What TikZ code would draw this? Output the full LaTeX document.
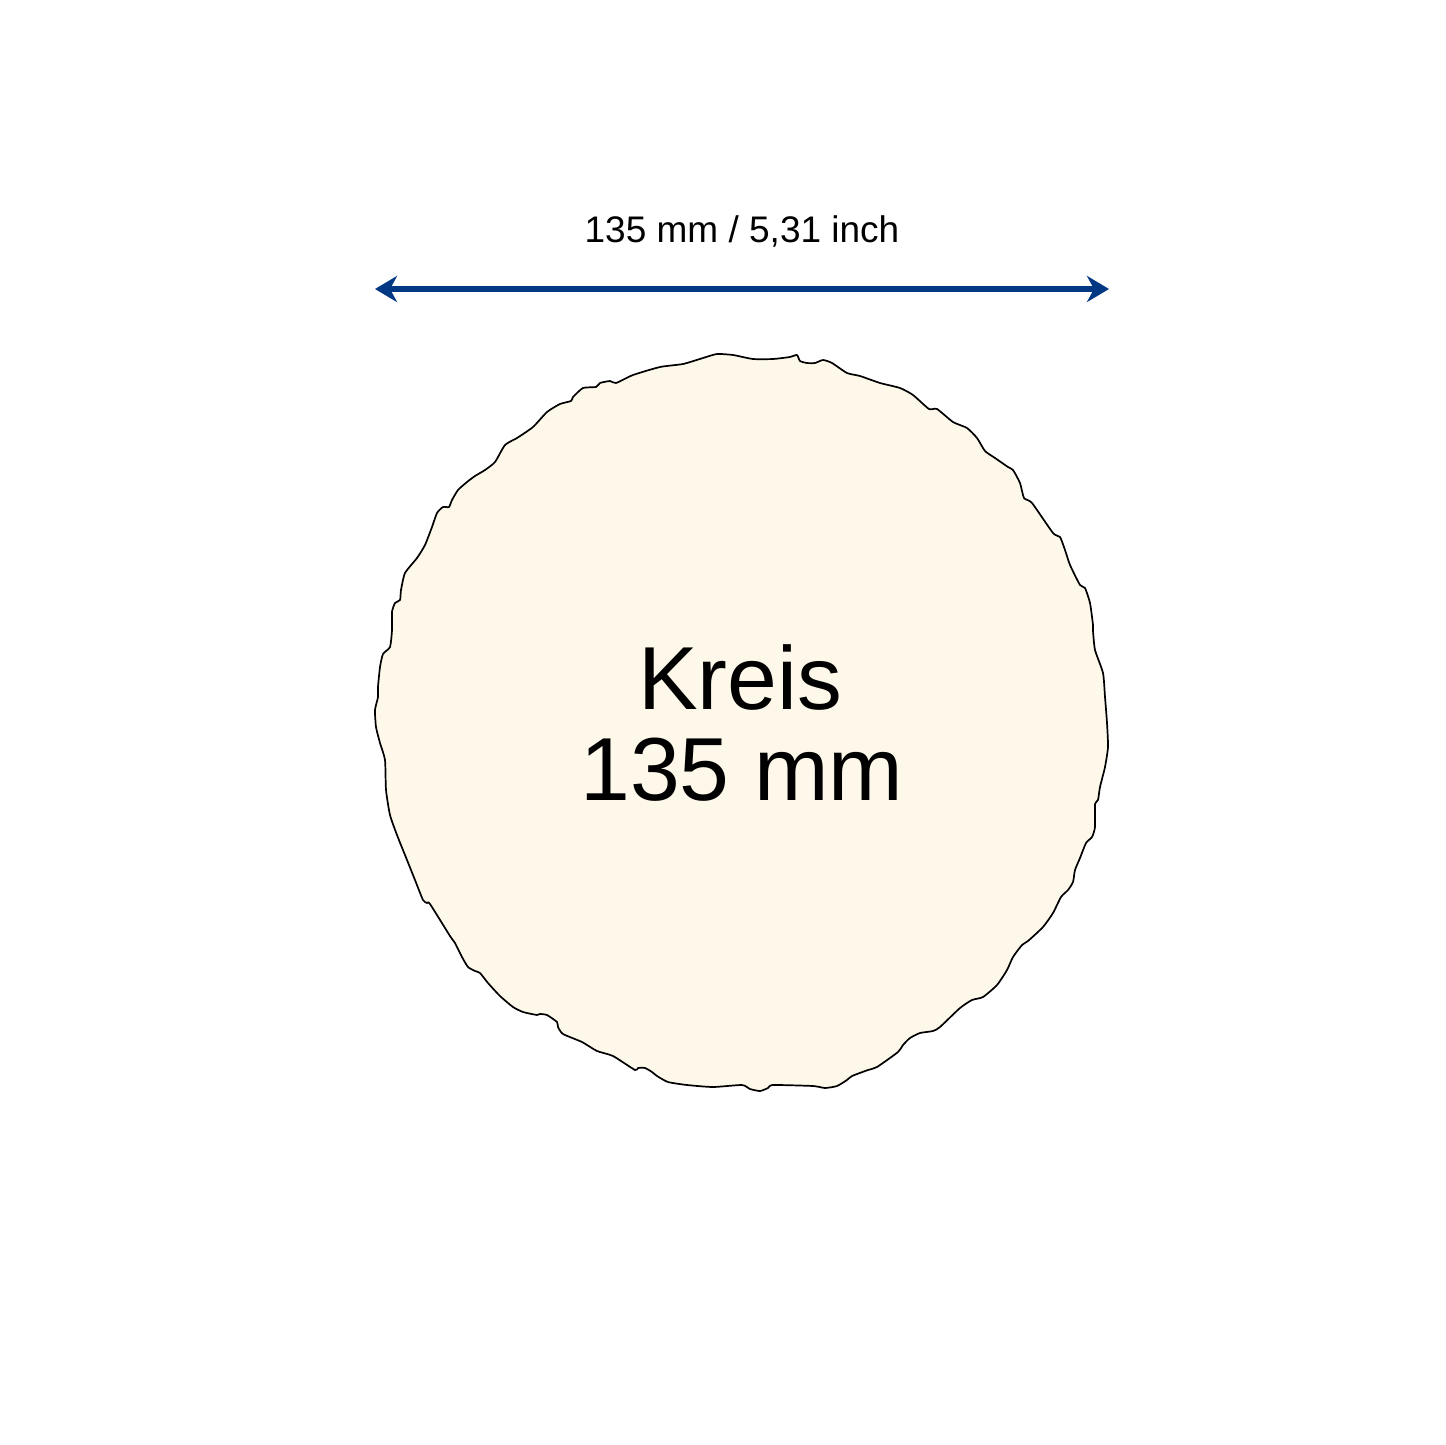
\documentclass[tikz,border=0pt]{standalone}
\usepackage{fontspec}
\setmainfont{Liberation Sans}
\usetikzlibrary{arrows.meta}
\definecolor{dimblue}{RGB}{0,56,131}
\definecolor{cream}{RGB}{253,248,234}
\begin{document}
\begin{tikzpicture}[x=1pt,y=-1pt,
  dimline/.style={draw=dimblue,line width=6pt,{Stealth[length=22pt,width=26pt,inset=7pt]}-{Stealth[length=22pt,width=26pt,inset=7pt]}},
  bigtext/.style={font=\fontsize{89.5}{92}\selectfont,anchor=base,inner sep=0pt},
  smalltext/.style={font=\fontsize{37}{40}\selectfont,anchor=base,inner sep=0pt},
  outline/.style={draw=black,fill=cream,line width=1.7pt,line join=round}]
\useasboundingbox (0,0) rectangle (1445,1445);
\fill[white] (0,0) rectangle (1445,1445);
\draw[outline] plot[smooth cycle,tension=0.35] coordinates {
(717,354) (733,355) (753,359) (773,359) (790,357) (797,355) (800,361) (807,363) (815,363) (823,360) (832,363) (847,373) (860,376) (880,383) (900,388) (913,395) (929,409) (937,409) (953,422) (967,428) (977,438) (985,451) (995,458) (1008,467) (1013,470) (1020,483) (1024,498) (1032,503) (1053,533) (1060,537) (1065,550) (1070,565) (1080,585) (1085,588) (1090,603) (1093,625) (1093,631) (1095,650) (1103,673) (1105,697) (1107,723) (1108,747) (1105,767) (1100,787) (1098,800) (1095,804) (1095,827) (1092,837) (1086,843) (1080,858) (1075,870) (1073,882) (1068,890) (1061,897) (1053,913) (1043,927) (1028,941) (1022,945) (1013,957) (1007,970) (997,985) (983,997) (972,1000) (960,1008) (940,1027) (933,1031) (920,1033) (910,1038) (903,1045) (898,1052) (877,1067) (868,1070) (852,1076) (847,1080) (837,1086) (825,1088) (813,1086) (773,1085) (768,1088) (760,1091) (750,1089) (742,1085) (713,1087) (687,1085) (668,1082) (657,1076) (652,1072) (645,1068) (638,1068) (635,1070) (613,1056) (597,1051) (582,1042) (563,1034) (558,1027) (557,1022) (547,1015) (540,1014) (537,1015) (523,1012) (513,1007) (500,996) (488,983) (480,973) (475,971) (468,967) (462,957) (455,943) (450,936) (430,904) (427,903) (423,900) (415,880) (407,860) (397,835) (390,815) (386,790) (385,760) (380,743) (376,727) (375,710) (378,697) (378,687) (380,667) (383,654) (390,647) (392,630) (392,612) (395,603) (400,600) (401,590) (405,573) (417,558) (425,545) (432,527) (437,513) (443,507) (449,507) (452,500) (458,490) (467,482) (475,476) (485,470) (495,462) (505,445) (517,438) (533,427) (547,412) (560,404) (571,401) (573,397) (583,388) (596,387) (600,383) (610,381) (616,383) (633,375) (660,367) (683,364) (703,358)};
\node[bigtext] (kreis) at (740,709) {Kreis};
\node[bigtext] (size) at (742,800) {135 mm};
\node[smalltext] (label) at (742,242) {135 mm / 5,31 inch};
\coordinate (dimL) at (375,289);
\coordinate (dimR) at (1109,289);
\draw[dimline] (dimL) -- (dimR);
\end{tikzpicture}
\end{document}
